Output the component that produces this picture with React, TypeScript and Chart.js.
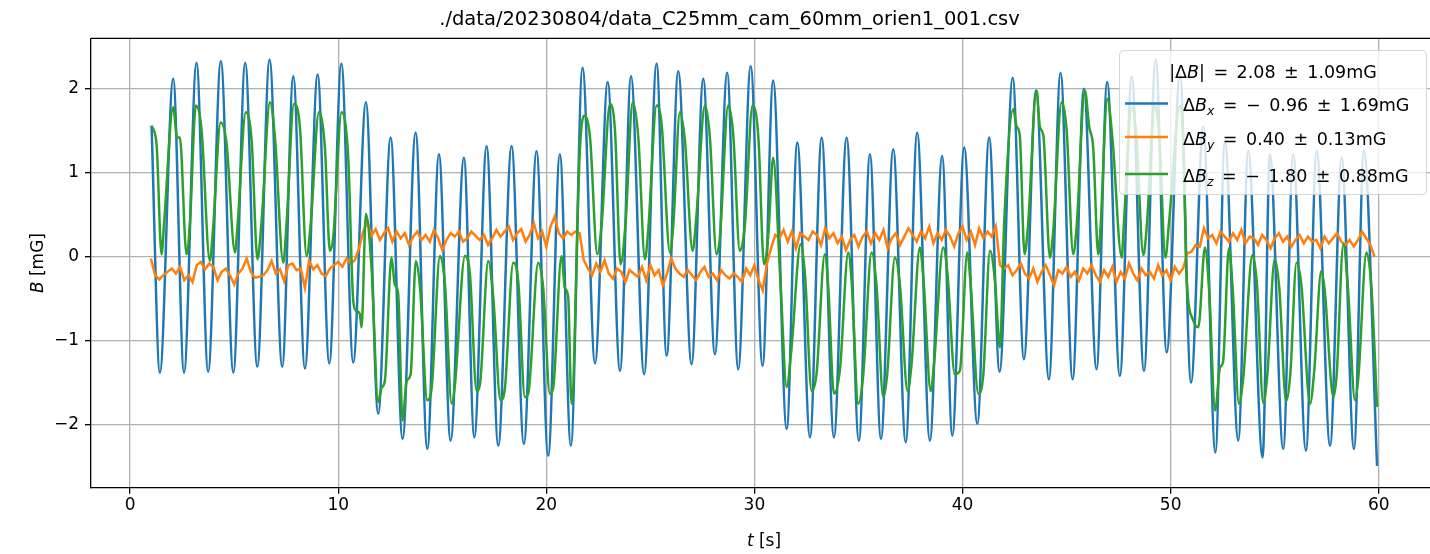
import React, { useEffect, useRef } from "react";
import { Chart, registerables } from "chart.js";

Chart.register(...registerables);

// ---------- data ----------
const TITLE = "./data/20230804/data_C25mm_cam_60mm_orien1_001.csv";
const X_TICKS = [0, 10, 20, 30, 40, 50, 60];
const Y_TICKS = [-2, -1, 0, 1, 2];
const X_LABEL_IT = "t";
const X_LABEL_REST = " [s]";
const Y_LABEL_IT = "B";
const Y_LABEL_REST = " [mG]";
const LEGEND_TITLE_TOKENS = ["=", "2.08", "\u00b1", "1.09mG"];
const SERIES_SUBS = ["x", "y", "z"];
const SERIES_TOKENS = [
  ["=", "\u2212", "0.96", "\u00b1", "1.69mG"],
  ["=", "0.40", "\u00b1", "0.13mG"],
  ["=", "\u2212", "1.80", "\u00b1", "0.88mG"],
];
const SERIES_COLORS = ["#1f77b4", "#ff7f0e", "#2ca02c"];

// ΔBx: times [s] and values [mG] read at peaks / troughs
const bxT = [
  1.03, 1.43, 2.07, 2.59, 3.19, 3.75, 4.36, 4.96, 5.53, 6.11, 6.70, 7.31, 7.84, 8.40, 9.01, 9.57, 10.15, 10.72,
  11.33, 11.92, 12.52, 13.09, 13.72, 14.28, 14.84, 15.40, 16.04, 16.54, 17.13, 17.69, 18.33, 18.92, 19.53, 20.09, 20.65, 21.18,
  21.74, 22.34, 22.95, 23.54, 24.07, 24.70, 25.30, 25.78, 26.34, 26.98, 27.54, 28.10, 28.69, 29.22, 29.82, 30.39, 30.90, 31.55,
  32.06, 32.67, 33.23, 33.82, 34.43, 35.02, 35.55, 36.08, 36.67, 37.27, 37.82, 38.43, 39.02, 39.51, 40.08, 40.71, 41.28, 41.78,
  42.41, 42.95, 43.53, 44.15, 44.71, 45.29, 45.83, 46.44, 46.95, 47.56, 48.13, 48.72, 49.28, 49.81, 50.45, 50.98,
  51.57, 52.15, 52.61, 53.25, 53.73, 54.42, 54.77, 55.41, 55.89, 56.50, 57.02, 57.66, 58.22, 58.81, 59.29, 59.92,
];
const bxV = [
  1.56, -1.38, 2.12, -1.38, 2.31, -1.37, 2.33, -1.38, 2.31, -1.31, 2.35, -1.31, 2.15, -1.33, 2.17, -1.27, 2.30, -1.26,
  1.84, -1.87, 1.42, -2.17, 1.48, -2.29, 1.22, -2.19, 1.18, -2.15, 1.32, -2.25, 1.32, -2.23, 1.26, -2.37, 1.22, -2.25,
  2.25, -1.27, 2.08, -1.36, 2.15, -1.40, 2.30, -1.18, 2.21, -1.28, 2.12, -1.16, 2.19, -1.34, 2.27, -1.30, 2.10, -2.05,
  1.36, -2.15, 1.42, -2.15, 1.42, -2.19, 1.22, -2.17, 1.28, -2.21, 1.48, -2.19, 1.20, -2.13, 1.30, -1.99, 1.42, -1.37,
  2.13, -1.22, 1.98, -1.46, 2.19, -1.46, 2.00, -1.34, 2.08, -1.42, 2.15, -1.36, 2.35, -1.14, 2.17, -1.50,
  1.55, -2.33, 1.38, -2.19, 1.26, -2.39, 1.22, -2.29, 1.22, -2.31, 1.26, -2.25, 1.18, -2.29, 1.26, -2.49,
];

// ΔBz: times [s] and values [mG] (peaks, shoulders, troughs)
const bzT = [
  1.03, 1.27, 1.51, 1.64, 2.07, 2.26, 2.39, 2.71, 2.87, 3.16, 3.43, 3.83, 3.99, 4.35, 4.63, 5.04, 5.16, 5.56, 5.84,
  6.12, 6.32, 6.72, 6.96, 7.36, 7.52, 7.87, 8.16, 8.48, 8.69, 9.07, 9.36, 9.60, 9.76, 10.16, 10.48,
  10.72, 10.85, 11.04, 11.12, 11.33, 11.60, 11.92, 12.08, 12.24, 12.56, 12.72, 12.88, 13.09, 13.29, 13.48, 13.73, 13.93,
  14.28, 14.49, 14.89, 15.13, 15.45, 15.61, 16.09, 16.33, 16.65, 16.81, 17.21, 17.45, 17.80, 18.01, 18.41, 18.65, 18.97,
  19.13, 19.61, 19.85, 20.17, 20.33, 20.73, 20.89, 21.05, 21.21,
  21.61, 21.81, 22.10, 22.45, 22.66, 23.06, 23.30, 23.57, 23.81, 24.15, 24.42, 24.74, 24.90, 25.30, 25.54, 25.94, 26.10,
  26.42, 26.66, 27.03, 27.22, 27.62, 27.86, 28.18, 28.34, 28.74, 28.98, 29.30, 29.54, 29.91, 30.19, 30.46, 30.67, 30.90,
  31.25, 31.55, 31.77, 32.22, 32.43, 32.75, 32.99, 33.38, 33.55, 33.82, 34.11, 34.51, 34.67, 34.99, 35.23, 35.63, 35.87,
  36.19, 36.38, 36.75, 36.99, 37.36, 37.55, 37.95, 38.14, 38.47, 38.63, 39.07, 39.28, 39.63, 39.87, 40.23, 40.39, 40.76,
  41.00, 41.32, 41.56, 41.80,
  42.00, 42.44, 42.60, 42.75, 42.98, 43.14, 43.56, 43.72, 43.88, 44.20, 44.36, 44.76, 45.00, 45.32, 45.48, 45.88, 46.09,
  46.28, 46.52, 46.62, 46.96, 47.20, 47.65, 47.75, 48.13, 48.35, 48.69, 48.85, 49.24, 49.45, 49.75, 49.92, 50.45, 50.62,
  50.76, 51.09, 51.33, 51.65, 51.85, 52.14, 52.37, 52.52, 52.80, 52.98, 53.28, 53.49, 53.93, 54.15, 54.45, 54.65, 55.00,
  55.22, 55.55, 55.75, 56.05, 56.28, 56.70, 56.90, 57.24, 57.40, 57.82, 57.98, 58.30, 58.52, 58.86, 59.02, 59.41, 59.65,
  59.92,
];
const bzV = [
  1.56, 1.34, 0.03, 0.43, 1.78, 1.42, 1.42, 0.03, 0.39, 1.80, 1.52, -0.05, 0.35, 1.60, 1.36, 0.05, 0.37, 1.72, 1.38,
  -0.03, 0.43, 1.84, 1.42, -0.07, 0.41, 1.82, 1.54, 0.01, 0.43, 1.72, 1.30, 0.07, 0.23, 1.72, 1.18,
  -0.52, -0.64, -0.68, -0.84, 0.51, -0.13, -1.73, -1.56, -1.48, -0.01, -0.33, -0.44, -1.95, -1.48, -1.40, -0.05, -0.37,
  -1.71, -1.56, 0.01, -0.33, -1.75, -1.52, 0.01, -0.21, -1.60, -1.52, -0.05, -0.48, -1.71, -1.56, -0.07, -0.29, -1.67,
  -1.63, -0.07, -0.37, -1.63, -1.56, 0.01, -0.37, -0.48, -1.75,
  1.26, 1.68, 1.42, 0.03, 0.39, 1.82, 1.50, -0.09, 0.41, 1.84, 1.42, -0.03, 0.33, 1.80, 1.58, 0.05, 0.37,
  1.72, 1.38, 0.07, 0.51, 1.80, 1.42, 0.03, 0.23, 1.80, 1.46, 0.07, 0.37, 1.80, 1.42, -0.09, 0.27, 1.18,
  -0.30, -1.55, -1.12, 0.15, -0.21, -1.60, -1.38, 0.03, -0.37, -1.63, -1.34, 0.05, -0.29, -1.75, -1.40, 0.05, -0.35,
  -1.67, -1.40, -0.01, -0.33, -1.60, -1.28, 0.11, -0.33, -1.60, -1.28, 0.11, -0.21, -1.40, -1.36, 0.05, -0.33, -1.63,
  -1.40, 0.07, -0.29, -1.08,
  0.40, 1.76, 1.55, 1.45, 0.03, 0.35, 1.98, 1.54, 1.45, -0.01, 0.31, 1.84, 1.52, 0.03, 0.35, 1.98, 1.54,
  1.30, 0.03, 0.30, 1.88, 1.42, -0.01, 0.38, 1.78, 1.45, 0.02, 0.35, 1.80, 1.45, -0.01, 0.40, 1.80, 1.30,
  -0.21, -0.76, -0.84, 0.11, -0.40, -1.83, -1.32, -1.25, 0.10, -0.37, -1.75, -1.44, 0.02, -0.33, -1.74, -1.40, -0.03,
  -0.37, -1.72, -1.40, -0.07, -0.33, -1.75, -1.36, -0.17, -0.39, -1.67, -1.40, 0.15, -0.37, -1.71, -1.44, 0.05, -0.37,
  -1.79,
];

// ΔBy: regularly sampled from t0 with step dt [s], values [mG]
const byT0 = 1.0;
const byDt = 0.2;
const byV = [
  -0.02, -0.22, -0.27, -0.22, -0.18, -0.14, -0.20, -0.12, -0.28, -0.22,
  -0.30, -0.10, -0.06, -0.15, -0.08, -0.12, -0.28, -0.18, -0.14, -0.22,
  -0.33, -0.20, -0.14, -0.02, -0.18, -0.25, -0.24, -0.22, -0.16, -0.05,
  -0.20, -0.15, -0.29, -0.10, -0.08, -0.16, -0.14, -0.37, -0.05, -0.15,
  -0.10, -0.20, -0.23, -0.14, -0.10, -0.06, -0.12, -0.02, -0.08, -0.04,
  0.10, 0.30, 0.42, 0.25, 0.33, 0.20, 0.28, 0.34, 0.18, 0.30,
  0.22, 0.28, 0.14, 0.24, 0.30, 0.20, 0.26, 0.18, 0.32, 0.22,
  0.08, 0.20, 0.28, 0.24, 0.30, 0.18, 0.22, 0.30, 0.25, 0.20,
  0.26, 0.14, 0.22, 0.32, 0.24, 0.30, 0.36, 0.20, 0.28, 0.33,
  0.18, 0.26, 0.40, 0.22, 0.30, 0.12, 0.36, 0.48, 0.28, 0.22,
  0.30, 0.26, 0.30, 0.28, -0.04, -0.14, -0.22, -0.08, -0.18, -0.04,
  -0.20, -0.26, -0.14, -0.18, -0.30, -0.16, -0.20, -0.24, -0.12, -0.28,
  -0.10, -0.22, -0.16, -0.34, -0.20, -0.02, -0.14, -0.20, -0.24, -0.16,
  -0.22, -0.28, -0.18, -0.12, -0.24, -0.20, -0.28, -0.16, -0.22, -0.26,
  -0.20, -0.24, -0.30, -0.14, -0.22, -0.10, -0.28, -0.40, -0.08, 0.10,
  0.26, 0.22, 0.32, 0.18, 0.30, 0.10, 0.28, 0.24, 0.20, 0.30,
  0.26, 0.14, 0.34, 0.22, 0.28, 0.16, 0.24, 0.08, 0.20, 0.26,
  0.12, 0.24, 0.30, 0.16, 0.28, 0.20, 0.32, 0.10, 0.22, 0.28,
  0.14, 0.24, 0.34, 0.26, 0.18, 0.30, 0.22, 0.36, 0.16, 0.28,
  0.20, 0.32, 0.24, 0.12, 0.28, 0.36, 0.20, 0.30, 0.14, 0.34,
  0.22, 0.30, 0.24, 0.36, -0.10, -0.14, -0.10, -0.22, -0.16, -0.08,
  -0.20, -0.26, -0.14, -0.30, -0.18, -0.10, -0.22, -0.34, -0.16, -0.20,
  -0.12, -0.24, -0.18, -0.28, -0.14, -0.20, -0.10, -0.22, -0.30, -0.16,
  -0.24, -0.12, -0.30, -0.18, -0.26, -0.08, -0.20, -0.28, -0.14, -0.22,
  -0.18, -0.26, -0.10, -0.22, -0.16, -0.28, -0.12, -0.20, -0.14, 0.04,
  0.06, 0.14, 0.12, 0.34, 0.22, 0.26, 0.16, 0.30, 0.24, 0.18,
  0.28, 0.20, 0.32, 0.16, 0.24, 0.22, 0.14, 0.26, 0.20, 0.10,
  0.22, 0.28, 0.18, 0.24, 0.12, 0.20, 0.26, 0.16, 0.24, 0.18,
  0.20, 0.10, 0.24, 0.16, 0.22, 0.28, 0.18, 0.14, 0.20, 0.12,
  0.20, 0.30, 0.22, 0.14, 0.00,
];

// ---------- drawing helpers ----------
const FAM = '"DejaVu Sans", sans-serif';
const F = (size: number, italic = false) => `${italic ? "italic " : ""}${size}px ${FAM}`;

type Run = { text?: string; font?: string; dy?: number; gap?: number };

function runsWidth(ctx: CanvasRenderingContext2D, parts: Run[]) {
  let w = 0;
  for (const p of parts) {
    if (p.gap) { w += p.gap; continue; }
    ctx.font = p.font as string;
    w += ctx.measureText(p.text as string).width;
  }
  return w;
}
function drawRuns(ctx: CanvasRenderingContext2D, x: number, y: number, parts: Run[]) {
  let cx = x;
  for (const p of parts) {
    if (p.gap) { cx += p.gap; continue; }
    ctx.font = p.font as string;
    ctx.fillText(p.text as string, cx, y + (p.dy || 0));
    cx += ctx.measureText(p.text as string).width;
  }
}
function tokensToRuns(tokens: string[], size: number, gap: number): Run[] {
  const out: Run[] = [];
  tokens.forEach((t) => {
    out.push({ gap });
    out.push({ text: t, font: F(size) });
  });
  return out;
}

const fmtTick = (v: number) => (v < 0 ? "\u2212" + Math.abs(v) : String(v));

const LS = 17.5; // legend font size
const GAP = 8.5; // math spacing around operators

const decorPlugin = {
  id: "decor",
  afterDraw(chart: any) {
    const ctx: CanvasRenderingContext2D = chart.ctx;
    const ca = chart.chartArea;
    ctx.save();
    ctx.fillStyle = "#000";
    ctx.textBaseline = "alphabetic";

    // top frame
    ctx.strokeStyle = "#000";
    ctx.lineWidth = 1.3;
    ctx.beginPath();
    ctx.moveTo(ca.left, ca.top);
    ctx.lineTo(ca.right, ca.top);
    ctx.stroke();

    // title
    ctx.font = F(19.5);
    ctx.textAlign = "center";
    ctx.fillText(TITLE, 729.5, 25);
    ctx.textAlign = "left";

    // x label
    const xl: Run[] = [
      { text: X_LABEL_IT, font: F(17, true) },
      { text: X_LABEL_REST, font: F(17) },
    ];
    const xw = runsWidth(ctx, xl);
    drawRuns(ctx, (ca.left + ca.right) / 2 - xw / 2, 546, xl);

    // y label (rotated)
    const yl: Run[] = [
      { text: Y_LABEL_IT, font: F(17, true) },
      { text: Y_LABEL_REST, font: F(17) },
    ];
    const yw = runsWidth(ctx, yl);
    ctx.save();
    ctx.translate(43, (ca.top + ca.bottom) / 2 + yw / 2);
    ctx.rotate(-Math.PI / 2);
    drawRuns(ctx, 0, 0, yl);
    ctx.restore();

    // legend box
    const bx = 1119.5, by = 50.5, bw = 307, bh = 144, r = 4;
    ctx.beginPath();
    ctx.moveTo(bx + r, by);
    ctx.arcTo(bx + bw, by, bx + bw, by + bh, r);
    ctx.arcTo(bx + bw, by + bh, bx, by + bh, r);
    ctx.arcTo(bx, by + bh, bx, by, r);
    ctx.arcTo(bx, by, bx + bw, by, r);
    ctx.closePath();
    ctx.fillStyle = "rgba(255,255,255,0.8)";
    ctx.fill();
    ctx.strokeStyle = "rgba(204,204,204,0.8)";
    ctx.lineWidth = 1;
    ctx.stroke();

    ctx.fillStyle = "#000";
    const lt: Run[] = [
      { text: "|\u0394", font: F(LS) },
      { text: "B", font: F(LS, true) },
      { text: "|", font: F(LS) },
      ...tokensToRuns(LEGEND_TITLE_TOKENS, LS, GAP),
    ];
    const lw = runsWidth(ctx, lt);
    drawRuns(ctx, bx + bw / 2 - lw / 2, 77.5, lt);

    const handleY = [103.5, 137, 174];
    const baseY = [111, 144.5, 181.5];
    for (let i = 0; i < 3; i++) {
      ctx.strokeStyle = SERIES_COLORS[i];
      ctx.lineWidth = 2.5;
      ctx.beginPath();
      ctx.moveTo(1125, handleY[i]);
      ctx.lineTo(1168, handleY[i]);
      ctx.stroke();
      ctx.fillStyle = "#000";
      drawRuns(ctx, 1183, baseY[i], [
        { text: "\u0394", font: F(LS) },
        { text: "B", font: F(LS, true) },
        { text: SERIES_SUBS[i], font: F(12.5, true), dy: 4 },
        ...tokensToRuns(SERIES_TOKENS[i], LS, GAP),
      ]);
    }
    ctx.restore();
  },
};

export default function App() {
  const ref = useRef<HTMLCanvasElement | null>(null);
  useEffect(() => {
    if (!ref.current) return;
    const bx = bxT.map((t, i) => ({ x: t, y: bxV[i] }));
    const by = byV.map((v, i) => ({ x: +(byT0 + i * byDt).toFixed(2), y: v }));
    const bz = bzT.map((t, i) => ({ x: t, y: bzV[i] }));
    const chart = new Chart(ref.current, {
      type: "line",
      data: {
        datasets: [
          { label: "Bx", data: bx, borderColor: SERIES_COLORS[0], borderWidth: 2.5, pointRadius: 0, cubicInterpolationMode: "monotone", order: 3 },
          { label: "By", data: by, borderColor: SERIES_COLORS[1], borderWidth: 2.5, pointRadius: 0, tension: 0, order: 2 },
          { label: "Bz", data: bz, borderColor: SERIES_COLORS[2], borderWidth: 2.5, pointRadius: 0, cubicInterpolationMode: "monotone", order: 1 },
        ],
      },
      options: {
        animation: false,
        responsive: false,
        devicePixelRatio: 1,
        layout: { padding: { left: 0, right: 3, top: 38.4, bottom: 0 } },
        plugins: { legend: { display: false }, tooltip: { enabled: false }, title: { display: false } },
        scales: {
          x: {
            type: "linear",
            min: -1.88,
            max: 62.8,
            afterBuildTicks: (s: any) => { s.ticks = X_TICKS.map((v) => ({ value: v })); },
            afterFit: (s: any) => { s.height = 66.3; },
            grid: { color: "#b0b0b0", lineWidth: 1.3, drawTicks: true, tickLength: 6, tickColor: "#000", tickWidth: 1.3 },
            border: { display: true, color: "#000", width: 1.3 },
            ticks: { color: "#000", font: { family: FAM, size: 17 }, padding: 2, maxRotation: 0, autoSkip: false, callback: (v: any) => fmtTick(Number(v)) },
          },
          y: {
            type: "linear",
            min: -2.75,
            max: 2.6,
            afterBuildTicks: (s: any) => { s.ticks = Y_TICKS.map((v) => ({ value: v })); },
            afterFit: (s: any) => { s.width = 91; },
            grid: { color: "#b0b0b0", lineWidth: 1.3, drawTicks: true, tickLength: 6, tickColor: "#000", tickWidth: 1.3 },
            border: { display: true, color: "#000", width: 1.3 },
            ticks: { color: "#000", font: { family: FAM, size: 17 }, padding: 6, autoSkip: false, callback: (v: any) => fmtTick(Number(v)) },
          },
        },
      },
      plugins: [decorPlugin],
    } as any);
    return () => chart.destroy();
  }, []);
  return (
    <div style={{ position: "fixed", left: 0, top: 0, width: 1430, height: 554, overflow: "hidden", background: "#fff" }}>
      <canvas ref={ref} width={1440} height={554} style={{ display: "block" }} />
    </div>
  );
}
